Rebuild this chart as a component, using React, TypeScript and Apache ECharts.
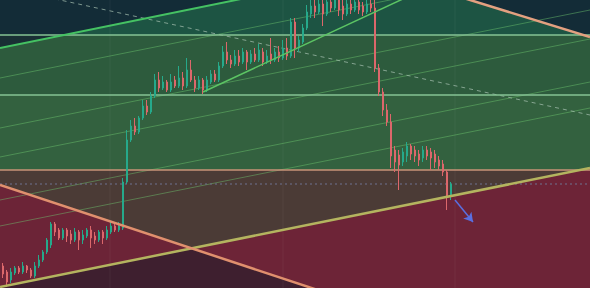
import React, { useEffect, useRef } from "react";
import * as echarts from "echarts";

// Candle values (index = bar number, price in chart units)
const opens = [22,16,8,15,20,16,22,18,12,22, 28,36,43,64,58,50,58,54,48,56, 48,52,58,52,48,56,50,56,62,58, 60,106,148,162,156,170,182,176,192,208, 200,206,198,208,202,210,202,218,208,200, 208,198,206,214,208,222,236,228,224,232, 226,236,226,234,228,236,226,234,228,236, 230,240,232,266,240,246,260,274,282,276, 284,274,286,280,288,282,274,284,278,286, 282,276,284,280,220,196,178,166,138,133, 126,132,142,138,134,130,138,136,134,128, 124,116,92];
const closes = [14,6,16,20,16,22,18,12,22,28, 36,48,64,56,50,58,52,48,56,48, 53,58,50,48,56,50,58,62,58,62, 106,148,162,156,170,182,176,192,208,200, 206,198,206,202,210,202,218,208,200,208, 198,208,214,208,222,236,228,224,232,226, 236,226,234,228,238,226,232,228,236,230, 240,232,266,240,248,260,276,282,276,284, 274,286,280,288,278,274,284,278,286,278, 276,284,280,220,196,178,166,132,126,123, 136,142,134,132,128,138,132,130,126,122, 116,92,104];
const highs = [25,18,20,22,22,26,23,20,26,33, 38,50,66,66,60,60,60,58,60,58, 58,60,62,56,58,58,62,66,64,66, 110,158,168,170,172,188,188,196,214,216, 212,208,214,212,222,216,230,228,212,212, 210,212,218,218,226,242,246,233,238,238, 240,238,238,240,244,240,238,250,240,242, 248,250,270,270,252,264,283,288,288,292, 288,292,292,294,292,288,290,288,292,290, 286,290,288,288,224,200,184,174,142,138, 140,146,144,142,138,142,142,140,138,132, 128,118,106];
const lows = [10,1,5,13,14,14,15,10,10,20, 26,34,40,52,48,48,46,44,46,38, 44,50,40,44,46,44,48,54,56,56, 58,104,146,153,154,168,173,174,190,196, 198,196,196,200,200,198,200,206,196,198, 194,196,204,206,206,220,224,220,222,222, 224,218,224,226,226,222,224,224,226,226, 228,228,230,230,236,244,258,270,270,274, 262,272,276,278,272,268,272,274,276,274, 272,274,276,216,192,172,162,120,116,98, 122,126,128,126,122,126,128,118,120,118, 112,78,88];

// Drawing anchors [bar, price]
const zoneLevels = [118, 193, 253];
const channelTop = [[-0.75, 240], [146.75, 360]];
const channelBottom = [[-0.75, 1], [146.75, 120]];
const channelInner = [
  [[-0.75, 210], [146.75, 328]],
  [[-0.75, 160], [146.75, 278]],
  [[-0.75, 131], [146.75, 249]],
  [[-0.75, 88], [146.75, 206]],
  [[-0.75, 62], [146.75, 180]],
];
const supportLine = [[50, 196], [104.25, 297]];
const fallingLower = [[-0.75, 103], [146.75, -92]];
const fallingUpper = [[109.25, 297.25], [146.75, 251]];
const dashedLine = [[-0.75, 301], [146.75, 173]];
const dottedLevel = 104;
const projection = [[113, 88], [117.5, 66]];
const gridBars = [26.75, 70, 113];

const topLeftOutside = [[-0.75, 288], [58.25, 288], [-0.75, 240]];
const topRightOutside = [[116.75, 288], [146.75, 288], [146.75, 251]];
const bottomLeftWedge = [[-0.75, 103], [47.2, 39.7], [-0.75, 1]];
const bottomBelowBoth = [[-0.75, 1], [47.2, 39.7], [77.2, 0], [-0.75, 0]];
const bottomRightWedge = [[47.2, 39.7], [146.75, 120], [146.75, 0], [77.2, 0]];

const X_MIN = -0.75;
const X_MAX = 146.75;

export default function App() {
  const ref = useRef<HTMLDivElement>(null);
  useEffect(() => {
    if (!ref.current) return;
    const chart = echarts.init(ref.current, null, { renderer: "svg" });

    const levels = [0, ...zoneLevels, 288];
    const bandColors = ["#4b3b36", "#33613f", "#2d5b3d", "#1d5443"];
    const regions: { pts: number[][]; color: string }[] = [];
    for (let i = 0; i < levels.length - 1; i++) {
      regions.push({
        pts: [[X_MIN, levels[i]], [X_MAX, levels[i]], [X_MAX, levels[i + 1]], [X_MIN, levels[i + 1]]],
        color: bandColors[i],
      });
    }
    regions.push({ pts: topLeftOutside, color: "rgba(12,16,46,0.58)" });
    regions.push({ pts: topRightOutside, color: "rgba(12,16,46,0.58)" });
    regions.push({ pts: bottomLeftWedge, color: "#6c2437" });
    regions.push({ pts: bottomBelowBoth, color: "#3e1f2f" });
    regions.push({ pts: bottomRightWedge, color: "#6d2437" });

    const lineSeries = (data: number[][], style: any, z = 4) => ({
      type: "line",
      data,
      symbol: "none",
      silent: true,
      z,
      lineStyle: style,
      clip: true,
    });

    const series: any[] = [
      {
        type: "custom",
        silent: true,
        z: 0,
        data: regions.map((r) => r.pts[0]),
        encode: { x: 0, y: 1 },
        renderItem: (params: any, api: any) => {
          const r = regions[params.dataIndex];
          return {
            type: "polygon",
            shape: { points: r.pts.map((p) => api.coord(p)) },
            style: { fill: r.color },
          };
        },
      },
    ];
    gridBars.forEach((g) =>
      series.push(lineSeries([[g, 0], [g, 288]], { color: "rgba(255,255,255,0.05)", width: 1 }, 1))
    );
    channelInner.forEach((l) =>
      series.push(lineSeries(l, { color: "rgba(110,200,110,0.45)", width: 1 }, 1))
    );
    series.push(lineSeries([[X_MIN, dottedLevel], [X_MAX, dottedLevel]], { color: "#6f7290", width: 1, type: [2, 3] }, 1));
    series.push(lineSeries(dashedLine, { color: "rgba(170,195,180,0.7)", width: 1, type: [4, 4] }, 1));
    series.push(lineSeries([[X_MIN, zoneLevels[2]], [X_MAX, zoneLevels[2]]], { color: "#86c394", width: 1.5 }, 1));
    series.push(lineSeries([[X_MIN, zoneLevels[1]], [X_MAX, zoneLevels[1]]], { color: "#86c394", width: 1.5 }, 1));
    series.push(lineSeries([[X_MIN, zoneLevels[0]], [X_MAX, zoneLevels[0]]], { color: "#c99478", width: 1.5 }, 1));

    series.push({
      type: "candlestick",
      data: opens.map((o, i) => [i, o, closes[i], lows[i], highs[i]]),
      encode: { x: 0, y: [1, 2, 3, 4] },
      barWidth: 2,
      clip: true,
      z: 3,
      silent: true,
      itemStyle: {
        color: "#26a98b",
        color0: "#dc676b",
        borderColor: "#26a98b",
        borderColor0: "#dc676b",
        borderWidth: 1,
      },
    });

    series.push(lineSeries(channelTop, { color: "#45c263", width: 2 }));
    series.push(lineSeries(channelBottom, { color: "#b4b45f", width: 2.5 }));
    series.push(lineSeries(fallingLower, { color: "#e0906e", width: 2.5 }));
    series.push(lineSeries(fallingUpper, { color: "#e3a080", width: 2.5 }));
    series.push(lineSeries(supportLine, { color: "#5cc464", width: 1.5 }));
    series.push({
      type: "line",
      data: [],
      silent: true,
      z: 5,
      markLine: {
        silent: true,
        animation: false,
        symbol: ["none", "arrow"],
        symbolSize: [8, 9],
        label: { show: false },
        lineStyle: { color: "#5a6fe0", width: 1.5, type: "solid" },
        data: [[{ coord: projection[0] }, { coord: projection[1] }]],
      },
    });

    chart.setOption({
      animation: false,
      backgroundColor: "#2d5b3d",
      grid: { left: 0, right: 0, top: 0, bottom: 0 },
      xAxis: { type: "value", min: X_MIN, max: X_MAX, show: false },
      yAxis: { type: "value", min: 0, max: 288, show: false, scale: false },
      series,
    });
    return () => chart.dispose();
  }, []);
  return <div ref={ref} style={{ position: "fixed", left: 0, top: 0, width: 590, height: 288 }} />;
}
